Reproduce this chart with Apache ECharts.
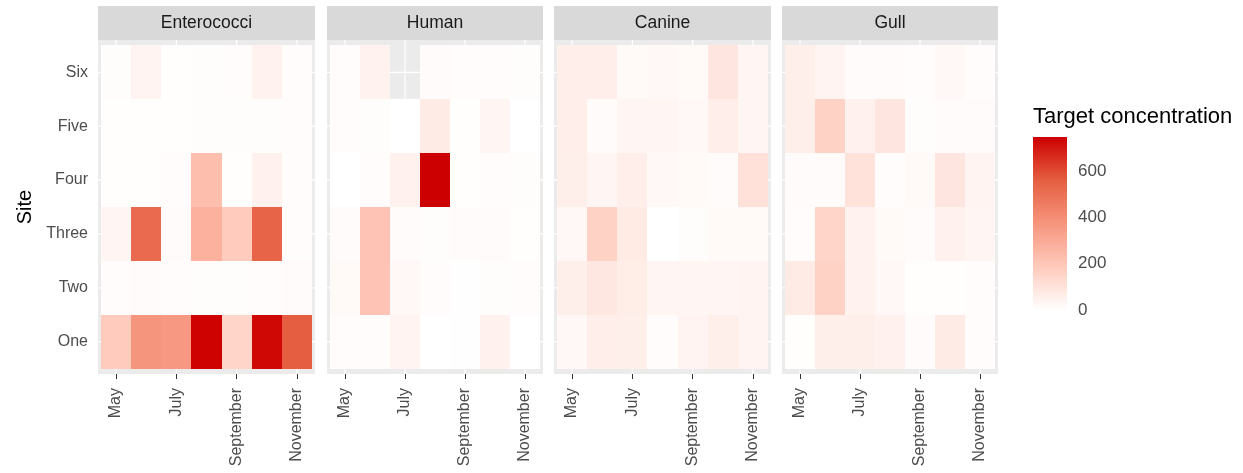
<!DOCTYPE html>
<html>
<head>
<meta charset="utf-8">
<script src="https://cdn.jsdelivr.net/npm/echarts@6/dist/echarts.min.js"></script>
<style>
  html, body { margin: 0; padding: 0; background: #ffffff; }
  #chart { width: 1243px; height: 473px; }
</style>
</head>
<body>
<div id="chart"></div>
<script>
// Sampling months (x) and sites (y)
const months = ['May', 'June', 'July', 'August', 'September', 'October', 'November'];
const monthTicks = [0, 2, 4, 6];
const sites = ['One', 'Two', 'Three', 'Four', 'Five', 'Six'];
const siteTicks = [1, 2, 3, 4, 5, 6];
const targets = ['Enterococci', 'Human', 'Canine', 'Gull'];
const legendBreaks = [0, 200, 400, 600];

// Target concentration, one row per site (One .. Six), columns May .. November
const enterococci = [
  [185, 375, 360, 745, 150, 735, 560],
  [10, 15, 10, 8, 8, 12, 15],
  [30, 520, 15, 275, 185, 540, 10],
  [5, 5, 10, 230, 5, 50, 10],
  [5, 5, 5, 8, 8, 8, 10],
  [8, 40, 5, 8, 10, 45, 10]
];
const human = [
  [12, 12, 40, 0, 3, 50, 0],
  [20, 210, 25, 10, 3, 8, 12],
  [15, 210, 15, 8, 15, 15, 5],
  [0, 10, 50, 748, 5, 10, 8],
  [10, 8, 0, 70, 5, 30, 0],
  [10, 45, null, 15, 12, 10, 8]
];
const canine = [
  [25, 60, 55, 10, 40, 55, 40],
  [55, 85, 65, 30, 30, 30, 40],
  [25, 160, 75, 0, 8, 20, 20],
  [55, 30, 60, 25, 20, 15, 105],
  [60, 15, 30, 30, 25, 60, 30],
  [60, 60, 20, 25, 20, 90, 35]
];
const gull = [
  [5, 55, 55, 50, 15, 70, 10],
  [70, 160, 45, 25, 5, 5, 10],
  [10, 150, 45, 20, 15, 50, 35],
  [15, 15, 100, 10, 20, 90, 40],
  [55, 160, 50, 90, 8, 15, 15],
  [55, 40, 15, 15, 10, 25, 10]
];
const targetValues = [enterococci, human, canine, gull];

// white -> red3 ramp (sampled along Lab)
const rampColors = ['#FFFFFF', '#FFCABC', '#F6957D', '#E55E41', '#CD0000'];

const FONT = "'Liberation Sans', Arial, Helvetica, sans-serif";
const panels = [
  { left: 98, width: 217 },
  { left: 327, width: 216 },
  { left: 554, width: 217 },
  { left: 782, width: 216 }
];
const panelTop = 40, panelHeight = 334, stripTop = 6, stripHeight = 34;
const xRange = [-0.6, 6.6], yRange = [0.4, 6.6];

let maxVal = 0;
targetValues.forEach(t => t.forEach(r => r.forEach(v => { if (v != null && v > maxVal) maxVal = v; })));

function tileData(values) {
  const out = [];
  values.forEach((row, si) => row.forEach((v, mi) => {
    if (v != null) out.push([mi, si + 1, v]);
  }));
  return out;
}

function renderTile(params, api) {
  const x = api.value(0), y = api.value(1);
  const a = api.coord([x - 0.5, y + 0.5]);
  const b = api.coord([x + 0.5, y - 0.5]);
  const x0 = Math.round(a[0]), y0 = Math.round(a[1]);
  const x1 = Math.round(b[0]), y1 = Math.round(b[1]);
  return {
    type: 'rect',
    shape: { x: x0, y: y0, width: x1 - x0, height: y1 - y0 },
    style: { fill: api.visual('color') }
  };
}

// white panel grid lines: item [0, v] is vertical at x = v, [1, v] horizontal at y = v
const gridLineData = monthTicks.map(m => [0, m]).concat(siteTicks.map(s => [1, s]));
function renderGridLine(params, api) {
  const dir = api.value(0), v = api.value(1);
  const a = dir === 0 ? api.coord([v, yRange[0]]) : api.coord([xRange[0], v]);
  const b = dir === 0 ? api.coord([v, yRange[1]]) : api.coord([xRange[1], v]);
  return {
    type: 'line',
    shape: { x1: a[0], y1: a[1], x2: b[0], y2: b[1] },
    style: { stroke: '#FFFFFF', lineWidth: 1.2 }
  };
}

const grids = [], xAxes = [], yAxes = [], series = [], graphics = [];
const tileSeriesIdx = [];

panels.forEach((p, i) => {
  grids.push({
    left: p.left, top: panelTop, width: p.width, height: panelHeight,
    show: true, backgroundColor: '#EBEBEB', borderWidth: 0, containLabel: false
  });
  xAxes.push({
    gridIndex: i, type: 'value', min: xRange[0], max: xRange[1],
    axisLine: { show: false },
    splitLine: { show: false },
    axisTick: { show: true, customValues: monthTicks, length: 5, lineStyle: { color: '#333333', width: 1 } },
    axisLabel: {
      customValues: monthTicks, formatter: v => months[v], rotate: 90, margin: 14,
      fontSize: 16, color: '#4D4D4D', fontFamily: FONT
    }
  });
  yAxes.push({
    gridIndex: i, type: 'value', min: yRange[0], max: yRange[1],
    axisLine: { show: false },
    splitLine: { show: false },
    axisTick: { show: i === 0, customValues: siteTicks, length: 5, lineStyle: { color: '#333333', width: 1 } },
    axisLabel: {
      show: i === 0, customValues: siteTicks, formatter: v => sites[v - 1], margin: 10,
      fontSize: 16, color: '#4D4D4D', fontFamily: FONT
    },
    name: i === 0 ? 'Site' : '',
    nameLocation: 'middle', nameGap: 63, nameRotate: 90,
    nameTextStyle: { fontSize: 20, color: '#000000', fontFamily: FONT }
  });
  series.push({
    type: 'custom', xAxisIndex: i, yAxisIndex: i, z: 1,
    renderItem: renderGridLine,
    data: gridLineData,
    encode: { x: -1, y: -1 },
    silent: true, animation: false
  });
  tileSeriesIdx.push(series.length);
  series.push({
    type: 'custom', name: targets[i], xAxisIndex: i, yAxisIndex: i, z: 3,
    renderItem: renderTile,
    data: tileData(targetValues[i]),
    encode: { x: 0, y: 1 },
    silent: true, animation: false
  });
  graphics.push({
    type: 'rect', left: p.left, top: stripTop, silent: true,
    shape: { width: p.width, height: stripHeight },
    style: { fill: '#D9D9D9' }
  });
  graphics.push({
    type: 'text', silent: true,
    x: p.left + p.width / 2, y: stripTop + stripHeight / 2,
    style: {
      text: targets[i], fill: '#1A1A1A', font: '17.5px ' + FONT,
      align: 'center', verticalAlign: 'middle'
    }
  });
});

// Colour bar legend
const legendGrid = grids.length;
grids.push({ left: 1033, top: 137, width: 34, height: 173, show: false });
xAxes.push({ gridIndex: legendGrid, type: 'value', min: 0, max: 1, show: false });
yAxes.push({
  gridIndex: legendGrid, type: 'value', min: 0, max: maxVal, position: 'left',
  axisLine: { show: false }, splitLine: { show: false }, axisLabel: { show: false },
  axisTick: { show: true, inside: true, customValues: legendBreaks, length: 7, lineStyle: { color: '#FFFFFF', width: 1 } }
});
yAxes.push({
  gridIndex: legendGrid, type: 'value', min: 0, max: maxVal, position: 'right',
  axisLine: { show: false }, splitLine: { show: false },
  axisTick: { show: true, inside: true, customValues: legendBreaks, length: 7, lineStyle: { color: '#FFFFFF', width: 1 } },
  axisLabel: { customValues: legendBreaks, margin: 11, fontSize: 17, color: '#4D4D4D', fontFamily: FONT }
});
series.push({
  type: 'custom', xAxisIndex: legendGrid, yAxisIndex: yAxes.length - 2, z: 1,
  silent: true, animation: false,
  data: [[0, 0, maxVal]],
  renderItem: function (params, api) {
    const a = api.coord([0, api.value(2)]);
    const b = api.coord([1, api.value(1)]);
    const stops = rampColors.map((c, k) => ({ offset: k / (rampColors.length - 1), color: c }));
    return {
      type: 'rect',
      shape: { x: a[0], y: a[1], width: b[0] - a[0], height: b[1] - a[1] },
      style: { fill: new echarts.graphic.LinearGradient(0, 1, 0, 0, stops) }
    };
  }
});
graphics.push({
  type: 'text', silent: true, x: 1033, y: 117,
  style: { text: 'Target concentration', fill: '#000000', font: '22px ' + FONT, verticalAlign: 'middle' }
});

const chart = echarts.init(document.getElementById('chart'), null, { renderer: 'canvas' });
chart.setOption({
  backgroundColor: '#FFFFFF',
  animation: false,
  grid: grids,
  xAxis: xAxes,
  yAxis: yAxes,
  visualMap: {
    type: 'continuous', show: false, min: 0, max: maxVal, dimension: 2,
    seriesIndex: tileSeriesIdx,
    inRange: { color: rampColors }
  },
  series: series,
  graphic: graphics
});
</script>
</body>
</html>
